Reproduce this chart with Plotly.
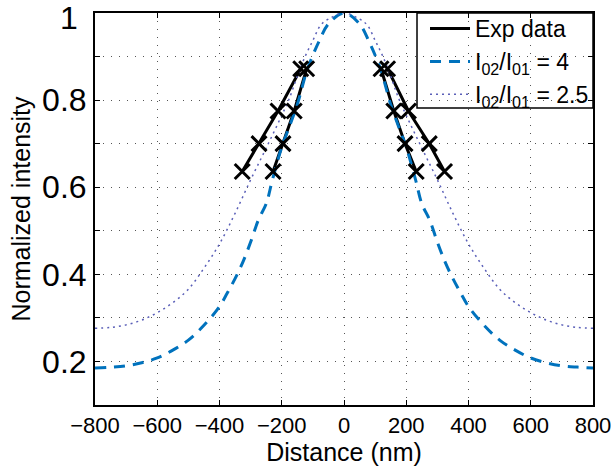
import plotly.graph_objects as go

# Experimental data (four branches)
exp_a_x = [-327, -273, -212, -139]
exp_a_y = [0.636, 0.700, 0.775, 0.872]
exp_b_x = [-228, -196, -160, -120]
exp_b_y = [0.636, 0.700, 0.775, 0.872]
exp_c_x = [119, 160, 196, 232]
exp_c_y = [0.872, 0.775, 0.700, 0.636]
exp_d_x = [140, 207, 274, 323]
exp_d_y = [0.872, 0.775, 0.700, 0.636]

# Model curve, I02/I01 = 4
m4_x = [-800, -750, -700, -650, -600, -550, -500, -450, -400, -375, -350, -325, -300, -275, -250,
        -230, -200, -175, -150, -120, -100, -80, -50, 0,
        50, 80, 100, 120, 150, 175, 200, 230, 250, 275, 300, 325, 350, 375, 400, 450, 500, 550,
        600, 650, 700, 750, 800]
m4_y = [0.185, 0.187, 0.190, 0.197, 0.208, 0.226, 0.249, 0.283, 0.326, 0.357, 0.390, 0.428, 0.474,
        0.525, 0.562, 0.617, 0.692, 0.740, 0.790, 0.866, 0.903, 0.935, 0.975, 1.000,
        0.975, 0.935, 0.903, 0.866, 0.790, 0.740, 0.692, 0.617, 0.562, 0.525, 0.474, 0.428, 0.390,
        0.357, 0.326, 0.283, 0.249, 0.226, 0.208, 0.197, 0.190, 0.187, 0.185]

# Model curve, I02/I01 = 2.5
m25_x = [-800, -750, -700, -650, -600, -550, -500, -450, -400, -350, -300, -250, -200, -175, -150,
         -125, -100, -75, -50, 0,
         50, 75, 100, 125, 150, 175, 200, 250, 300, 350, 400, 450, 500, 550, 600, 650, 700, 750, 800]
m25_y = [0.276, 0.278, 0.284, 0.295, 0.312, 0.335, 0.366, 0.414, 0.470, 0.540, 0.617, 0.690, 0.765,
         0.805, 0.855, 0.900, 0.937, 0.972, 0.986, 1.000,
         0.986, 0.972, 0.937, 0.900, 0.855, 0.805, 0.765, 0.690, 0.617, 0.540, 0.470, 0.414, 0.366,
         0.335, 0.312, 0.295, 0.284, 0.278, 0.276]

x_ticks = [-800, -600, -400, -200, 0, 200, 400, 600, 800]
y_ticks = [0.1, 0.2, 0.3, 0.4, 0.5, 0.6, 0.7, 0.8, 0.9, 1.0]
y_ticktext = ["", "0.2", "", "0.4", "", "0.6", "", "0.8", "", ""]
y_top_label = "1"

FONT = "Liberation Sans, Arial, Helvetica, sans-serif"

def join(*pairs):
    xs, ys = [], []
    for px, py in pairs:
        if xs:
            xs.append(None)
            ys.append(None)
        xs += px
        ys += py
    return xs, ys

lx, ly = join((exp_a_x, exp_a_y), (exp_b_x, exp_b_y), (exp_c_x, exp_c_y), (exp_d_x, exp_d_y))

fig = go.Figure()
fig.add_trace(go.Scatter(x=lx, y=ly, mode="lines", name="Exp data",
                         line=dict(color="black", width=3)))
fig.add_trace(go.Scatter(x=m4_x, y=m4_y, mode="lines", name="I<sub>02</sub>/I<sub>01</sub> = 4",
                         line=dict(color="#0072BD", width=3, dash="11px,8px", shape="spline")))
fig.add_trace(go.Scatter(x=m25_x, y=m25_y, mode="lines", name="I<sub>02</sub>/I<sub>01</sub> = 2.5",
                         line=dict(color="#5a5fb8", width=1.5, dash="2px,4px", shape="spline")))
fig.add_trace(go.Scatter(x=lx, y=ly, mode="markers", showlegend=False,
                         marker=dict(symbol="x-thin", size=15, color="black",
                                     line=dict(color="black", width=3))))

# legend frame (white box with black border, top-right of the axes)
fig.add_shape(type="rect", xref="paper", yref="paper",
              x0=0.6466, x1=1.0, y0=0.7577, y1=1.0,
              fillcolor="white", line=dict(color="black", width=1.5), layer="between")

# top y tick label, placed slightly below the axis top like the original
fig.add_annotation(x=0, xref="paper", y=y_ticks[-1], yref="y", text=y_top_label,
                   showarrow=False, xanchor="right", yanchor="middle",
                   xshift=-15, yshift=-5, font=dict(size=32, family=FONT, color="black"))

fig.update_layout(
    width=611, height=470,
    margin=dict(l=95, r=18, t=13, b=65, autoexpand=False),
    paper_bgcolor="white", plot_bgcolor="white",
    font=dict(family=FONT, color="black"),
    showlegend=True,
    legend=dict(xref="container", yref="container", x=0.6956, y=0.985,
                xanchor="left", yanchor="top",
                bgcolor="rgba(0,0,0,0)", borderwidth=0,
                font=dict(size=23, family=FONT), tracegroupgap=0,
                itemwidth=40),
)
fig.update_xaxes(range=[-800, 800], tickvals=x_ticks, tickfont=dict(size=22),
                 ticklabeloverflow="allow",
                 showline=True, linecolor="black", linewidth=2, mirror="ticks",
                 ticks="inside", ticklen=5, tickcolor="black",
                 showgrid=True, gridcolor="#555", griddash="1px,7px", gridwidth=1,
                 zeroline=False, automargin=False,
                 title=dict(text="Distance (nm)", font=dict(size=25), standoff=6))
fig.update_yaxes(range=[0.1, 1.0], tickvals=y_ticks, ticktext=y_ticktext, tickfont=dict(size=32),
                 ticklabeloverflow="allow",
                 showline=True, linecolor="black", linewidth=2, mirror="ticks",
                 ticks="inside", ticklen=5, tickcolor="black",
                 showgrid=True, gridcolor="#555", griddash="1px,7px", gridwidth=1,
                 zeroline=False, automargin=False,
                 title=dict(text="Normalized intensity", font=dict(size=25), standoff=4))

fig.write_html("out.html")
